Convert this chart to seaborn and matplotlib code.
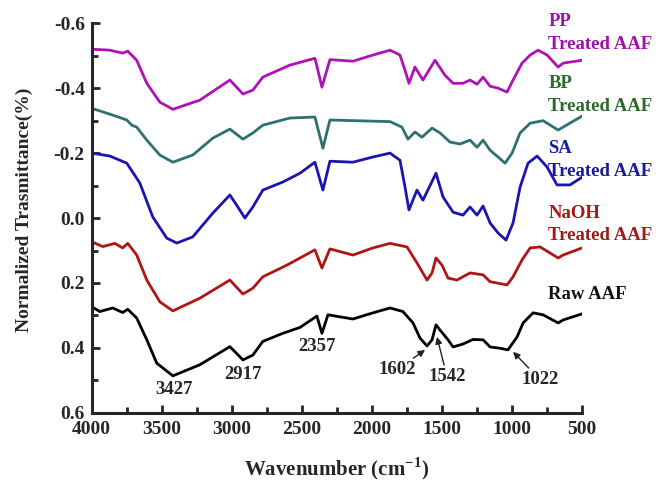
import matplotlib
matplotlib.use("Agg")
import matplotlib.pyplot as plt
import seaborn as sns
import pandas as pd
from matplotlib.ticker import MultipleLocator, FormatStrFormatter

# ---- data ----
raw_wn = [4000, 3943, 3850, 3779, 3743, 3679, 3607, 3536, 3421, 3229, 3014, 2921, 2850, 2779,
          2636, 2514, 2393, 2357, 2314, 2136, 1993, 1871, 1779, 1707, 1657, 1607, 1571, 1543,
          1514, 1457, 1421, 1350, 1279, 1207, 1157, 1086, 1029, 964, 921, 850, 779, 671, 636, 500]
raw_val = [0.273, 0.288, 0.277, 0.291, 0.281, 0.308, 0.375, 0.447, 0.486, 0.452, 0.396, 0.437,
           0.422, 0.380, 0.355, 0.337, 0.302, 0.355, 0.298, 0.311, 0.292, 0.277, 0.288, 0.323,
           0.370, 0.394, 0.375, 0.329, 0.345, 0.375, 0.397, 0.388, 0.374, 0.375, 0.397, 0.401,
           0.406, 0.366, 0.323, 0.292, 0.298, 0.323, 0.314, 0.295]

naoh_wn = [4000, 3921, 3836, 3779, 3743, 3679, 3607, 3514, 3421, 3229, 3014, 2921, 2850, 2779,
           2607, 2407, 2357, 2300, 2136, 1993, 1871, 1750, 1679, 1607, 1571, 1543, 1500, 1457,
           1393, 1300, 1207, 1157, 1036, 993, 929, 871, 800, 671, 636, 500]
naoh_val = [0.073, 0.088, 0.078, 0.092, 0.078, 0.114, 0.191, 0.258, 0.286, 0.247, 0.191, 0.234,
            0.216, 0.181, 0.145, 0.098, 0.154, 0.095, 0.114, 0.092, 0.078, 0.089, 0.138, 0.191,
            0.169, 0.123, 0.145, 0.185, 0.191, 0.169, 0.175, 0.196, 0.206, 0.181, 0.129, 0.092,
            0.089, 0.123, 0.114, 0.092]

sa_wn = [4000, 3871, 3750, 3657, 3564, 3464, 3393, 3279, 3136, 3014, 2957, 2907, 2850, 2779,
         2636, 2514, 2407, 2350, 2300, 2136, 1993, 1871, 1800, 1764, 1736, 1679, 1636, 1543,
         1493, 1421, 1350, 1300, 1250, 1207, 1157, 1100, 1043, 993, 943, 886, 821, 750, 679,
         586, 500]
sa_val = [-0.200, -0.191, -0.169, -0.108, -0.003, 0.062, 0.077, 0.058, -0.015, -0.071, -0.034,
          0.000, -0.034, -0.086, -0.111, -0.138, -0.172, -0.086, -0.175, -0.172, -0.188, -0.200,
          -0.178, -0.095, -0.025, -0.086, -0.055, -0.138, -0.065, -0.018, -0.009, -0.034, -0.009,
          -0.037, 0.015, 0.046, 0.068, 0.015, -0.095, -0.169, -0.191, -0.157, -0.102, -0.102,
          -0.126]

bp_wn = [4000, 3850, 3750, 3714, 3679, 3607, 3514, 3421, 3279, 3136, 3014, 2921, 2850, 2779,
         2586, 2407, 2350, 2300, 2136, 1871, 1786, 1743, 1693, 1643, 1571, 1514, 1443, 1371,
         1300, 1250, 1207, 1157, 1100, 1050, 1000, 943, 871, 779, 671, 636, 500]
bp_val = [-0.338, -0.317, -0.302, -0.286, -0.280, -0.240, -0.194, -0.172, -0.194, -0.246,
          -0.274, -0.243, -0.262, -0.286, -0.308, -0.311, -0.215, -0.302, -0.300, -0.297,
          -0.280, -0.243, -0.265, -0.249, -0.277, -0.262, -0.234, -0.228, -0.240, -0.218,
          -0.240, -0.209, -0.188, -0.169, -0.200, -0.262, -0.292, -0.300, -0.271, -0.280, -0.314]

pp_wn = [4000, 3871, 3779, 3743, 3679, 3607, 3514, 3421, 3229, 3014, 2921, 2850, 2779, 2586,
         2407, 2357, 2300, 2136, 1993, 1871, 1800, 1764, 1736, 1693, 1636, 1550, 1479, 1421,
         1350, 1300, 1250, 1207, 1157, 1100, 1036, 993, 929, 871, 814, 750, 671, 636, 500]
pp_val = [-0.520, -0.517, -0.508, -0.514, -0.486, -0.415, -0.357, -0.335, -0.363, -0.425,
          -0.382, -0.394, -0.434, -0.471, -0.492, -0.403, -0.488, -0.483, -0.502, -0.517,
          -0.502, -0.455, -0.415, -0.465, -0.425, -0.486, -0.440, -0.415, -0.415, -0.425,
          -0.412, -0.434, -0.406, -0.400, -0.388, -0.425, -0.477, -0.502, -0.517, -0.502,
          -0.465, -0.477, -0.486]

series_names = ["Raw AAF", "NaOH Treated AAF", "SA Treated AAF", "BP Treated AAF", "PP Treated AAF"]
label_lines = ["Raw AAF", "NaOH\nTreated AAF", "SA\nTreated AAF", "BP\nTreated AAF", "PP\nTreated AAF"]
label_wn = [740, 740, 740, 740, 740]
label_y = [0.235, 0.02, -0.18, -0.38, -0.57]
peak_labels = ["3427", "2917", "2357", "1602", "1542", "1022"]
peak_text_wn = [3414, 2921, 2393, 1821, 1464, 800]
peak_text_y = [0.529, 0.483, 0.397, 0.468, 0.489, 0.498]
arrow_tip_wn = [1621, 1536, 993]
arrow_tip_y = [0.406, 0.366, 0.412]
y_ticks = [-0.6, -0.4, -0.2, 0.0, 0.2, 0.4, 0.6]
x_ticks = [4000, 3500, 3000, 2500, 2000, 1500, 1000, 500]

# ---- style ----
sns.set_style("ticks")
plt.rcParams["font.family"] = ["Liberation Serif", "DejaVu Serif"]
plt.rcParams["font.weight"] = "bold"
plt.rcParams["axes.labelweight"] = "bold"
plt.rcParams["axes.unicode_minus"] = False
plt.rcParams["mathtext.fontset"] = "custom"
plt.rcParams["mathtext.rm"] = "Liberation Serif:bold"
plt.rcParams["mathtext.bf"] = "Liberation Serif:bold"

colors = ["#000000", "#b01515", "#1a14b0", "#2f7070", "#b010b8"]
label_colors = ["#111111", "#a51818", "#1a1aa5", "#2a6a2a", "#a010b0"]

frames = []
for name, wn, val in zip(series_names,
                         [raw_wn, naoh_wn, sa_wn, bp_wn, pp_wn],
                         [raw_val, naoh_val, sa_val, bp_val, pp_val]):
    frames.append(pd.DataFrame({"wn": wn, "val": val, "sample": name}))
df = pd.concat(frames, ignore_index=True)

fig = plt.figure(figsize=(6.6, 4.84), dpi=100)
ax = fig.add_axes([0.139, 0.147, 0.743, 0.805])

sns.lineplot(data=df, x="wn", y="val", hue="sample", hue_order=series_names,
             palette=dict(zip(series_names, colors)), linewidth=2.0, legend=False,
             sort=False, estimator=None, ax=ax)

ax.set_xlim(4000, 500)
ax.set_ylim(0.6, -0.6)
ax.set_xticks(x_ticks)
ax.set_yticks(y_ticks)
ax.xaxis.set_minor_locator(MultipleLocator(250))
ax.yaxis.set_minor_locator(MultipleLocator(0.1))
ax.yaxis.set_major_formatter(FormatStrFormatter("%.1f"))
ax.tick_params(which="major", direction="in", length=6, width=2, labelsize=14)
ax.tick_params(axis="x", which="major", pad=6)
ax.tick_params(axis="y", which="major", pad=5)
ax.tick_params(which="minor", direction="in", length=4, width=2)
for lbl in ax.get_xticklabels() + ax.get_yticklabels():
    lbl.set_fontweight("bold")
sns.despine(ax=ax)
for s in ["left", "bottom"]:
    ax.spines[s].set_linewidth(2.2)

ax.set_xlabel("Wavenumber (cm$^{-1}$)", fontsize=15, fontweight="bold")
ax.xaxis.set_label_coords(0.5, -0.11)
ax.set_ylabel("Normalized Trasmittance(%)", fontsize=14, fontweight="bold")
ax.yaxis.set_label_coords(-0.12, 0.52)

for txt, xw, yv, c in zip(label_lines, label_wn, label_y, label_colors):
    ax.text(xw, yv, txt, color=c, fontsize=13.5, fontweight="bold", ha="left", va="center",
            clip_on=False, linespacing=1.45)

# peak annotations
for i in range(3):
    ax.text(peak_text_wn[i], peak_text_y[i], peak_labels[i], fontsize=13.5, fontweight="bold",
            ha="center", va="center")
for j in range(3):
    i = j + 3
    ax.annotate(peak_labels[i], xy=(arrow_tip_wn[j], arrow_tip_y[j]),
                xytext=(peak_text_wn[i], peak_text_y[i]), fontsize=13.5,
                fontweight="bold", ha="center", va="center",
                arrowprops=dict(arrowstyle="-|>", color="#222222", lw=1.0, mutation_scale=10,
                                shrinkA=0, shrinkB=0))

fig.savefig("out.png", dpi=100)
